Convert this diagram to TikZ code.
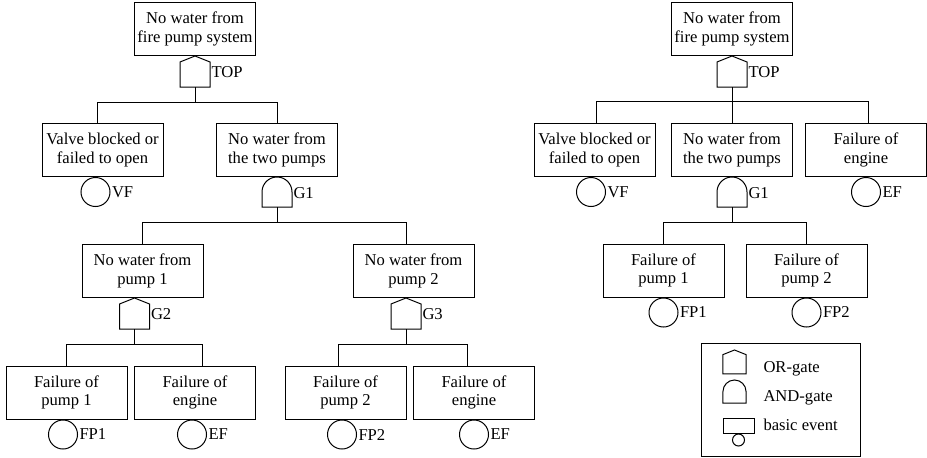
\documentclass[tikz,border=0pt]{standalone}
\usepackage{fontspec}
\setmainfont{Liberation Serif}
\usetikzlibrary{positioning}

\begin{document}
\begin{tikzpicture}[
    % Environment Config
    x=1pt, y=-1pt,
    font=\fontsize{16.6}{18.5}\selectfont,
    line width=1pt,
    EventBox/.style={% Style for the event boxes
      draw,
      align=center,
      inner sep=0pt,
      minimum width=121pt,
      minimum height=53pt
    },
    BasicEvent/.style={% Style for the basic event circles
      draw,
      circle,
      inner sep=0pt,
      minimum size=29pt,
      anchor=north
    },
    EventLabel/.style={% Style for the circle marks
      inner sep=1pt
    },
    GateLabel/.style={% Style for the gate names
      anchor=base west,
      inner sep=1pt
    },
    LegendText/.style={% Style for the legend texts
      anchor=base west,
      inner sep=0pt
    }
  ]

  \def\MyOrGate[#1](#2)#3#4{% Custom OR gate, apex at #2
    \begin{scope}[shift={(#2)},#1]
      %===Gate Shape===
      \draw[line join=miter] (0,0) -- (15,6) -- (15,31) -- (-15,31) -- (-15,6) -- cycle;
      %===PIN: IN===
      \coordinate (#3 IN) at (0,31);
      %===Label===
      \if\relax\detokenize{#4}\relax\else
        \node[GateLabel] (#3 lbl) at (15,21) {#4};
      \fi
    \end{scope}
  }
  \def\MyAndGate[#1](#2)#3#4{% Custom AND gate, top at #2
    \begin{scope}[shift={(#2)},#1]
      %===Gate Shape===
      \draw (-15,30) -- (-15,15) arc[start angle=180, end angle=360, radius=15]
        -- (15,30) -- cycle;
      %===PIN: IN===
      \coordinate (#3 IN) at (0,30);
      %===Label===
      \if\relax\detokenize{#4}\relax\else
        \node[GateLabel] (#3 lbl) at (15,21) {#4};
      \fi
    \end{scope}
  }

  \useasboundingbox (0,0) rectangle (927,458);

  % Put the event boxes in position
  %===Left tree===
  \node[EventBox] (TopL) at (195,29) {No water from\\fire pump system};
  \node[EventBox] (ValveL) at (102.5,150) {Valve blocked or\\failed to open};
  \node[EventBox] (PumpsL) at (277,150) {No water from\\the two pumps};
  \node[EventBox] (NoPumpOneL) at (142.5,271) {No water from\\pump 1};
  \node[EventBox] (NoPumpTwoL) at (413.5,271) {No water from\\pump 2};
  \node[EventBox] (FailPumpOneL) at (66.5,392.5) {Failure of\\pump 1};
  \node[EventBox] (EngineAL) at (195,392.5) {Failure of\\engine};
  \node[EventBox] (FailPumpTwoL) at (345.5,392.5) {Failure of\\pump 2};
  \node[EventBox] (EngineBL) at (474,392.5) {Failure of\\engine};

  %===Right tree===
  \node[EventBox] (TopR) at (732,29) {No water from\\fire pump system};
  \node[EventBox] (ValveR) at (594.5,150) {Valve blocked or\\failed to open};
  \node[EventBox] (PumpsR) at (732,150) {No water from\\the two pumps};
  \node[EventBox] (EngineR) at (866,150) {Failure of\\engine};
  \node[EventBox] (FailPumpOneR) at (663.5,270.5) {Failure of\\pump 1};
  \node[EventBox] (FailPumpTwoR) at (806.5,270.5) {Failure of\\pump 2};

  % Put the gates under their boxes
  \MyOrGate[](TopL.south){GTopL}{TOP}
  \MyAndGate[](PumpsL.south){GOneL}{G1}
  \MyOrGate[]([xshift=-8pt]NoPumpOneL.south){GTwoL}{G2}
  \MyOrGate[]([xshift=-7.5pt]NoPumpTwoL.south){GThreeL}{G3}
  \MyOrGate[](TopR.south){GTopR}{TOP}
  \MyAndGate[](PumpsR.south){GOneR}{G1}

  % Basic events
  \node[BasicEvent, label={[EventLabel]right:VF}] (VFL) at ([xshift=-7pt]ValveL.south) {};
  \node[BasicEvent, label={[EventLabel]right:FP1}] (FPOneL) at ([xshift=-3.5pt]FailPumpOneL.south) {};
  \node[BasicEvent, label={[EventLabel]right:EF}] (EFAL) at ([xshift=-3pt]EngineAL.south) {};
  \node[BasicEvent, label={[EventLabel]right:FP2}] (FPTwoL) at ([xshift=-3.5pt]FailPumpTwoL.south) {};
  \node[BasicEvent, label={[EventLabel]right:EF}] (EFBL) at (EngineBL.south) {};
  \node[BasicEvent, label={[EventLabel]right:VF}] (VFR) at ([xshift=-3.5pt]ValveR.south) {};
  \node[BasicEvent, label={[EventLabel]right:EF}] (EFR) at (EngineR.south) {};
  \node[BasicEvent, label={[EventLabel]right:FP1}] (FPOneR) at (FailPumpOneR.south) {};
  \node[BasicEvent, label={[EventLabel]right:FP2}] (FPTwoR) at (FailPumpTwoR.south) {};

  % Draw the connectors
  %===Left TOP===
  \draw (GTopL IN) -- ++(0,15) coordinate (BusTopL) -| ([xshift=-5.5pt]ValveL.north);
  \draw (BusTopL) -| (PumpsL.north);

  %===Left G1===
  \draw (GOneL IN) -- ++(0,15) coordinate (BusOneL) -| (NoPumpOneL.north);
  \draw (BusOneL) -| ([xshift=-7.5pt]NoPumpTwoL.north);

  %===Left G2===
  \draw (GTwoL IN) -- ++(0,15) coordinate (BusTwoL) -| (FailPumpOneL.north);
  \draw (BusTwoL) -| ([xshift=7pt]EngineAL.north);

  %===Left G3===
  \draw (GThreeL IN) -- ++(0,15) coordinate (BusThreeL) -| ([xshift=-7.5pt]FailPumpTwoL.north);
  \draw (BusThreeL) -| ([xshift=-7pt]EngineBL.north);

  %===Right TOP===
  \draw (GTopR IN) -- ++(0,14) coordinate (BusTopR) -| ([xshift=1.5pt]ValveR.north);
  \draw (BusTopR) -- (PumpsR.north);
  \draw (BusTopR) -| ([xshift=2pt]EngineR.north);

  %===Right G1===
  \draw (GOneR IN) -- ++(0,15) coordinate (BusOneR) -| (FailPumpOneR.north);
  \draw (BusOneR) -| (FailPumpTwoR.north);

  % Legend
  \node[draw, minimum width=159pt, minimum height=113pt, inner sep=0pt] (Legend) at (780.5,399.5) {};
  \MyOrGate[scale=0.77](734.5,350){LegOr}{}
  \MyAndGate[scale=0.77](734.5,380){LegAnd}{}
  \node[draw, minimum width=31pt, minimum height=15pt, inner sep=0pt] (LegBox) at (738.5,425.5) {};
  \node[draw, circle, minimum size=12pt, inner sep=0pt, below=0pt of LegBox] (LegCircle) {};
  \node[LegendText] (LegOrText) at (763,372) {OR-gate};
  \node[LegendText] (LegAndText) at (763,401) {AND-gate};
  \node[LegendText] (LegEventText) at (763,430.5) {basic event};

\end{tikzpicture}
\end{document}
